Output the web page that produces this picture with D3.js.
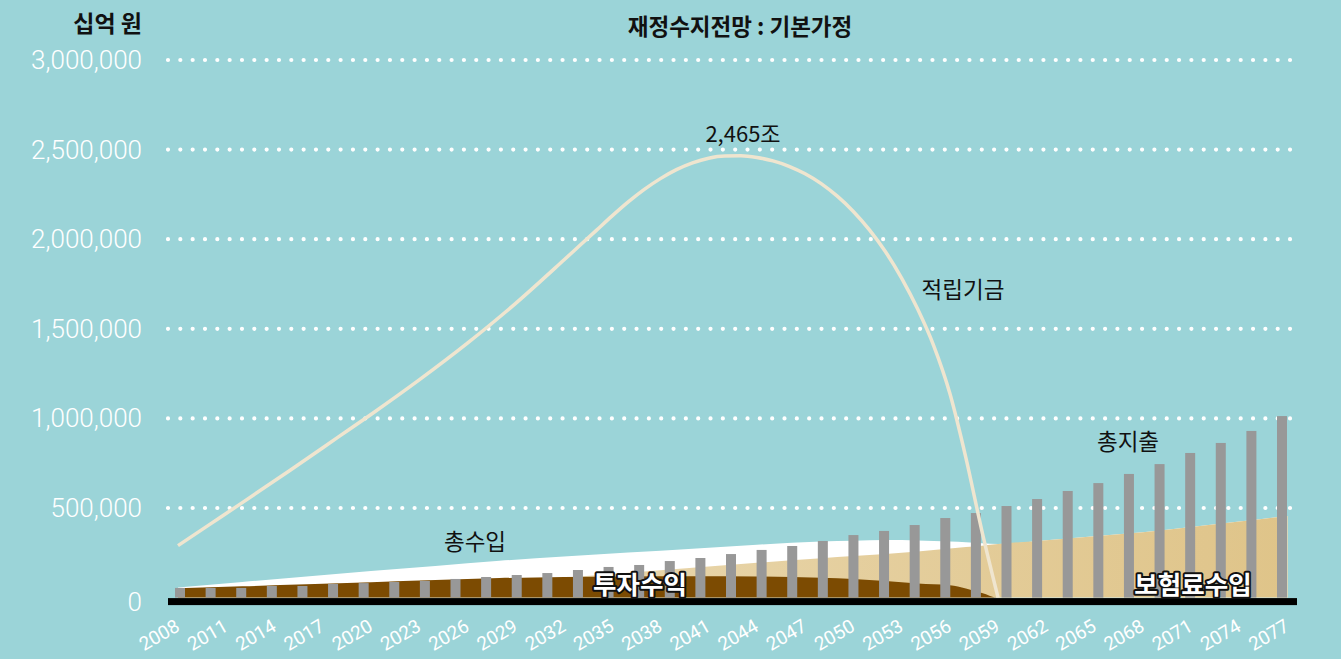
<!DOCTYPE html>
<html><head><meta charset="utf-8">
<script src="https://cdn.jsdelivr.net/npm/d3@7"></script>
<style>
html,body{margin:0;padding:0;background:#9bd4d8;}
svg{display:block;}
</style></head>
<body>
<svg id="chart" width="1341" height="659"></svg>
<script>
// ---------- data (단위: 십억 원) ----------
const yTicks = [0, 500000, 1000000, 1500000, 2000000, 2500000, 3000000];
const xTickYears = d3.range(2008, 2078, 3);

// area series sampled at these years
const areaYears      = [2008, 2012, 2016, 2020, 2024, 2028, 2032, 2036, 2040, 2044, 2048, 2050, 2052, 2054, 2056, 2057, 2058, 2059, 2062, 2065, 2068, 2071, 2074, 2077];
const totalRevenue   = [56000, 87000, 118000, 148000, 177000, 205000, 229000, 251000, 273000, 295000, 313000, 317000, 321000, 319000, 313000, 309000, 303000, 299000, 320000, 342000, 364000, 394000, 425000, 456000];
const premiumRevenue = [40000, 50000, 62000, 75000, 88000, 100000, 112000, 139000, 166000, 194000, 220000, 232000, 244000, 257000, 274000, 282000, 290000, 299000, 320000, 342000, 364000, 394000, 425000, 456000];
const investIncome   = [52000, 63000, 74000, 86000, 98000, 109000, 115000, 118000, 119000, 118000, 111000, 104000, 93000, 79000, 69000, 51000, 26000, 0, 0, 0, 0, 0, 0, 0];

// fund balance (적립기금)
const fundYears = [2008, 2010, 2012, 2015, 2018, 2020, 2023, 2026, 2029, 2032, 2033, 2034, 2035, 2036, 2037, 2038, 2039, 2040, 2041, 2042, 2043, 2044, 2045, 2046, 2047, 2048, 2049, 2050, 2051, 2052, 2053, 2054, 2055, 2056, 2057, 2058, 2059];
const fundBalance = [290000, 410000, 530000, 712000, 898000, 1022000, 1215000, 1420000, 1642000, 1884000, 1966000, 2048000, 2130000, 2208000, 2278000, 2338000, 2388000, 2426000, 2452000, 2464000, 2465000, 2456000, 2437000, 2407000, 2365000, 2310000, 2240000, 2155000, 2052000, 1930000, 1783000, 1610000, 1405000, 1140000, 780000, 370000, 0];

// total expenditure bars (총지출)
const expenditure = [54000, 54000, 54000, 65000, 65000, 76000, 81000, 87000, 93000, 104000, 115000, 126000, 137000, 154000, 171000, 182000, 204000, 221000, 243000, 266000, 288000, 316000, 349000, 372000, 405000, 444000, 472000, 511000, 550000, 595000, 639000, 690000, 745000, 807000, 863000, 930000, 1013000];

const title = "재정수지전망 : 기본가정";
const unitLabel = "십억 원";
const peakLabel = "2,465조";

// ---------- layout ----------
const svg = d3.select("#chart");
const W = 1341, H = 659;
svg.append("rect").attr("width", W).attr("height", H).attr("fill", "#9bd4d8");

const x = d3.scaleLinear().domain([2008, 2077]).range([178, 1287.5]);
const y = d3.scaleLinear().domain([0, 3000000]).range([597.6, 60]);
const xb = d3.scalePoint().domain(d3.range(expenditure.length)).range([x(2008) + 2, x(2077) - 5.5]);

const KR = "'Noto Sans CJK KR','Noto Sans',sans-serif";
const NUM = "Roboto,'Liberation Sans',sans-serif";

// gradient for premium area
const defs = svg.append("defs");
const grad = defs.append("linearGradient").attr("id", "tanGrad")
  .attr("gradientUnits", "userSpaceOnUse")
  .attr("x1", x(2030)).attr("x2", x(2077)).attr("y1", 0).attr("y2", 0);
grad.append("stop").attr("offset", "0%").attr("stop-color", "#e9d7ae");
grad.append("stop").attr("offset", "100%").attr("stop-color", "#dfc489");

// gridlines (dotted)
const grid = svg.append("g");
yTicks.filter(d => d > 0).forEach(t => {
  grid.append("line")
    .attr("x1", 168).attr("x2", 1300)
    .attr("y1", y(t)).attr("y2", y(t))
    .attr("stroke", "#ffffff").attr("stroke-width", 4.2)
    .attr("stroke-linecap", "round")
    .attr("stroke-dasharray", "0 12.33");
});

// y axis labels
svg.append("g").selectAll("text").data(yTicks).join("text")
  .attr("x", 142)
  .attr("y", d => d === 0 ? y(d) + 4 : y(d))
  .attr("text-anchor", "end")
  .attr("dominant-baseline", "central")
  .attr("fill", "#ffffff")
  .attr("font-family", NUM).attr("font-weight", 300).attr("font-size", 26)
  .text(d => d3.format(",")(d));

// areas
const idx = d3.range(areaYears.length);
const areaGen = vals => d3.area()
  .x(i => x(areaYears[i]))
  .y0(y(0))
  .y1(i => y(vals[i]))
  .curve(d3.curveMonotoneX);

svg.append("path").datum(idx).attr("d", areaGen(totalRevenue)).attr("fill", "#ffffff");
svg.append("path").datum(idx).attr("d", areaGen(premiumRevenue)).attr("fill", "url(#tanGrad)");
svg.append("path").datum(idx).attr("d", areaGen(investIncome)).attr("fill", "#7c4b02");

// bars
svg.append("g").selectAll("rect").data(expenditure).join("rect")
  .attr("x", (d, i) => xb(i) - 5)
  .attr("width", 10)
  .attr("y", d => y(d))
  .attr("height", d => y(0) - y(d))
  .attr("fill", "#989898");

// baseline
svg.append("rect")
  .attr("x", x(2008) - 10).attr("width", x(2077) - x(2008) + 19.5)
  .attr("y", y(0) + 0.5).attr("height", 7)
  .attr("fill", "#000000");

// fund line
const fi = d3.range(fundYears.length);
svg.append("path").datum(fi)
  .attr("d", d3.line().x(i => x(fundYears[i])).y(i => y(fundBalance[i])).curve(d3.curveMonotoneX))
  .attr("fill", "none").attr("stroke", "#efe5cf").attr("stroke-width", 3.5);

// x axis labels
svg.append("g").selectAll("text").data(xTickYears).join("text")
  .attr("transform", d => `translate(${x(d) + 3},630) rotate(-30)`)
  .attr("text-anchor", "end")
  .attr("fill", "#ffffff")
  .attr("font-family", NUM).attr("font-weight", 400).attr("font-size", 19)
  .text(d => d);

// titles
svg.append("text").attr("x", 740).attr("y", 35).attr("text-anchor", "middle")
  .attr("font-family", KR).attr("font-weight", 700).attr("font-size", 22.5).attr("fill", "#111")
  .text(title);
svg.append("text").attr("x", 142).attr("y", 32).attr("text-anchor", "end")
  .attr("font-family", KR).attr("font-weight", 700).attr("font-size", 23).attr("fill", "#111")
  .text(unitLabel);

// annotations
const plain = [
  {t: peakLabel, x: 743, y: 142, s: 22},
  {t: "적립기금", x: 963, y: 298, s: 22.5},
  {t: "총수입", x: 475, y: 550, s: 22.5},
  {t: "총지출", x: 1128, y: 450, s: 22.5}
];
svg.append("g").selectAll("text").data(plain).join("text")
  .attr("x", d => d.x).attr("y", d => d.y).attr("text-anchor", "middle")
  .attr("font-family", KR).attr("font-size", d => d.s).attr("fill", "#111")
  .text(d => d.t);

const outlined = [
  {t: "투자수익", x: 640, y: 594},
  {t: "보험료수입", x: 1193, y: 594}
];
svg.append("g").selectAll("text").data(outlined).join("text")
  .attr("x", d => d.x).attr("y", d => d.y).attr("text-anchor", "middle")
  .attr("font-family", KR).attr("font-weight", 700).attr("font-size", 25.5)
  .attr("fill", "#ffffff").attr("stroke", "#111").attr("stroke-width", 4)
  .attr("stroke-linejoin", "round").attr("paint-order", "stroke")
  .text(d => d.t);
</script>
</body></html>
